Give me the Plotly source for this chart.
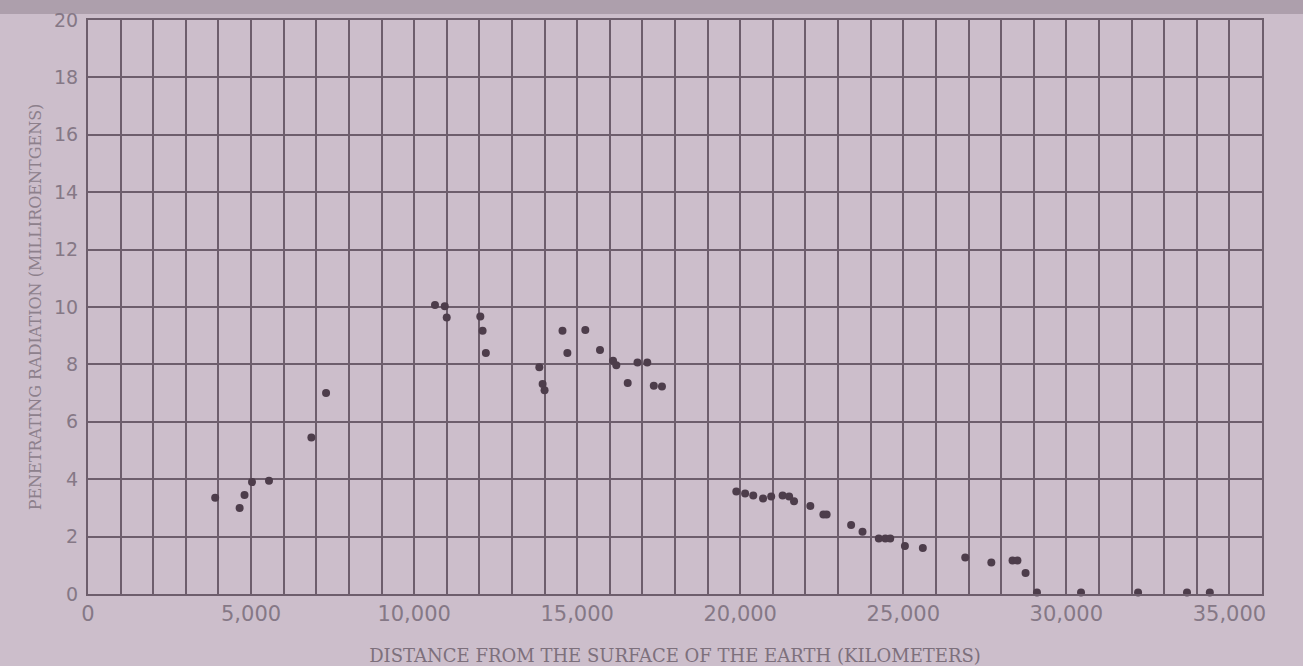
import plotly.graph_objects as go

# ---- data ----
distance_km = [3900, 4650, 4800, 5030, 5550, 6850, 7300,
               10640, 10940, 11000, 12030, 12100, 12200, 13840, 13940, 14000,
               14550, 14700, 15250, 15700, 16100, 16200, 16550, 16850, 17150,
               17350, 17600,
               19880, 20150, 20400, 20700, 20950, 21300, 21500, 21650, 22150,
               22550, 22650, 23400, 23750, 24250, 24450, 24600, 25050, 25600,
               26900, 27700, 28350, 28500, 28750, 29100, 30450, 32200, 33700,
               34400]
intensity = [3.35, 3.0, 3.45, 3.9, 3.95, 5.45, 7.0,
             10.07, 10.03, 9.63, 9.67, 9.17, 8.4, 7.9, 7.32, 7.1,
             9.17, 8.4, 9.2, 8.5, 8.13, 7.97, 7.35, 8.07, 8.07,
             7.26, 7.23,
             3.57, 3.5, 3.43, 3.33, 3.4, 3.43, 3.4, 3.23, 3.07,
             2.77, 2.77, 2.4, 2.17, 1.93, 1.93, 1.93, 1.67, 1.6,
             1.27, 1.1, 1.17, 1.17, 0.73, 0.05, 0.05, 0.05, 0.05,
             0.05]
x_ticks = [0, 5000, 10000, 15000, 20000, 25000, 30000, 35000]
y_ticks = [0, 2, 4, 6, 8, 10, 12, 14, 16, 18, 20]

paper = "#ccbecb"
grid = "#6d5e6c"
tickc = "#857886"

fig = go.Figure()
fig.add_trace(go.Scatter(
    x=distance_km, y=intensity, mode="markers",
    marker=dict(size=8, color="#4d3d4b", line=dict(width=0)),
    cliponaxis=False, showlegend=False))

fig.update_layout(
    width=1303, height=666,
    margin=dict(l=88, r=41, t=20, b=72),
    paper_bgcolor=paper, plot_bgcolor=paper,
    font=dict(family="DejaVu Sans", color=tickc),
    xaxis=dict(range=[0, 36000], tickvals=x_ticks, tickformat=",d",
               automargin=False,
               showgrid=True, gridcolor=grid, gridwidth=2,
               minor=dict(dtick=1000, showgrid=True, gridcolor=grid, gridwidth=2),
               showline=True, linecolor=grid, linewidth=2, mirror=True,
               zeroline=False, ticks="", ticklabelstandoff=0,
               tickfont=dict(size=21, color=tickc, family="DejaVu Sans"),
               title=dict(text="DISTANCE FROM THE SURFACE OF THE EARTH (KILOMETERS)",
                          font=dict(size=18, color="#7d707c", family="DejaVu Serif"),
                          standoff=24)),
    yaxis=dict(range=[0, 20], tickvals=y_ticks,
               automargin=False,
               showgrid=True, gridcolor=grid, gridwidth=2,
               showline=True, linecolor=grid, linewidth=2, mirror=True,
               zeroline=False, ticks="", ticklabelstandoff=4,
               tickfont=dict(size=19, color=tickc, family="DejaVu Sans"),
               title=dict(text="PENETRATING RADIATION (MILLIROENTGENS)",
                          font=dict(size=16, color="#8d808c", family="DejaVu Serif"),
                          standoff=8)),
    shapes=[dict(type="rect", xref="paper", yref="paper", x0=-0.1, x1=1.1,
                 y0=1.0 + 6 / 574, y1=1.04, fillcolor="#ad9fac", line=dict(width=0), layer="below")],
)

fig.write_html("out.html", config={"displayModeBar": False},
               post_script="document.body.style.margin='0';document.body.style.background='#ccbecb';")
